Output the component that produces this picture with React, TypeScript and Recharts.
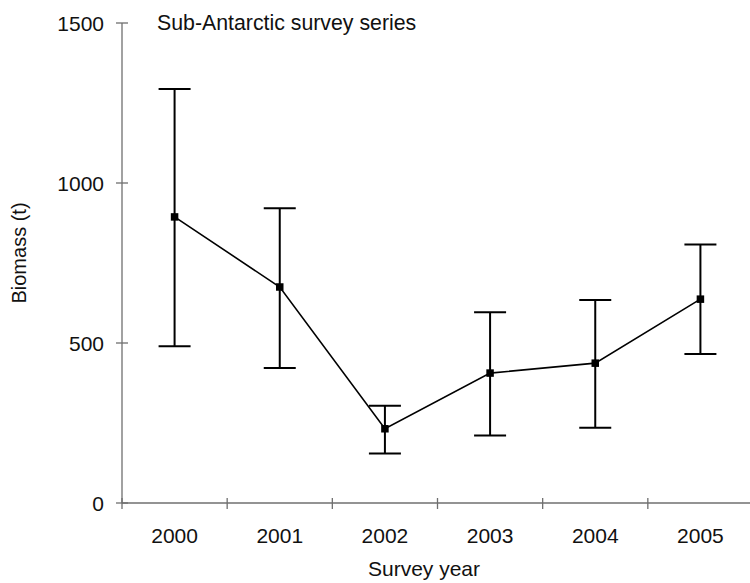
import { ComposedChart, Line, XAxis, YAxis, ErrorBar } from "recharts";

// Survey biomass estimates with confidence bounds
const years = ["2000", "2001", "2002", "2003", "2004", "2005"];
const biomass = [894, 675, 232, 406, 437, 637];
const lowerBound = [490, 422, 155, 211, 235, 466];
const upperBound = [1294, 921, 304, 596, 634, 808];
const yTicks = [0, 500, 1000, 1500];

const FONT = "'Liberation Sans', Arial, Helvetica, sans-serif";
const AXIS = "#6f6f6f";

const data = years.map((year, i) => ({
  idx: i,
  year,
  biomass: biomass[i],
  err: [biomass[i] - lowerBound[i], upperBound[i] - biomass[i]],
}));

// tick marks sit on category boundaries, labels on category centres
const xTicks: number[] = [];
for (let i = 0; i <= years.length * 2; i++) xTicks.push(i / 2 - 0.5);

function XTick(props: any) {
  const { x, y, payload } = props;
  const v = payload.value as number;
  if (Number.isInteger(v)) {
    return (
      <text
        x={x}
        y={y + 32}
        textAnchor="middle"
        dominantBaseline="central"
        fontFamily={FONT}
        fontSize={21}
        fill="#111"
      >
        {years[v]}
      </text>
    );
  }
  return <line x1={x} x2={x} y1={y - 5} y2={y + 6} stroke={AXIS} strokeWidth={1.3} />;
}

function YTick(props: any) {
  const { x, y, payload } = props;
  return (
    <g>
      <line x1={x - 6} x2={x + 6} y1={y} y2={y} stroke={AXIS} strokeWidth={1.3} />
      <text
        x={x - 18}
        y={y}
        textAnchor="end"
        dominantBaseline="central"
        fontFamily={FONT}
        fontSize={21}
        fill="#111"
      >
        {payload.value}
      </text>
    </g>
  );
}

function SquareDot(props: any) {
  const { cx, cy } = props;
  if (cx == null || cy == null) return null;
  return <rect x={cx - 3.75} y={cy - 3.75} width={7.5} height={7.5} fill="#000" />;
}

export default function App() {
  return (
    <div style={{ position: "absolute", left: 0, top: 0, width: 750, height: 583, background: "#fff" }}>
      <ComposedChart
        width={750}
        height={583}
        data={data}
        margin={{ top: 23, right: -3, bottom: 0, left: 0 }}
      >
        <XAxis
          dataKey="idx"
          type="number"
          domain={[-0.5, 5.5]}
          ticks={xTicks}
          interval={0}
          tickSize={0}
          tickMargin={0}
          tickLine={false}
          height={80}
          stroke={AXIS}
          strokeWidth={1.3}
          tick={<XTick />}
        />
        <YAxis
          type="number"
          domain={[0, 1500]}
          ticks={yTicks}
          interval={0}
          tickSize={0}
          tickMargin={0}
          tickLine={false}
          width={122}
          stroke={AXIS}
          strokeWidth={1.3}
          tick={<YTick />}
        />
        <Line
          dataKey="biomass"
          stroke="#000"
          strokeWidth={1.6}
          dot={<SquareDot />}
          activeDot={false}
          isAnimationActive={false}
        >
          <ErrorBar dataKey="err" direction="y" width={16} stroke="#000" strokeWidth={2} />
        </Line>
      </ComposedChart>
      <svg
        width={750}
        height={583}
        style={{ position: "absolute", left: 0, top: 0, pointerEvents: "none" }}
      >
        <text x={157} y={23} dominantBaseline="central" fontFamily={FONT} fontSize={21.3} fill="#111">
          Sub-Antarctic survey series
        </text>
        <text
          x={424}
          y={568}
          textAnchor="middle"
          dominantBaseline="central"
          fontFamily={FONT}
          fontSize={21}
          fill="#111"
        >
          Survey year
        </text>
        <text
          x={19}
          y={253}
          textAnchor="middle"
          dominantBaseline="central"
          transform="rotate(-90 19 253)"
          fontFamily={FONT}
          fontSize={20}
          fill="#111"
        >
          Biomass (t)
        </text>
      </svg>
    </div>
  );
}
